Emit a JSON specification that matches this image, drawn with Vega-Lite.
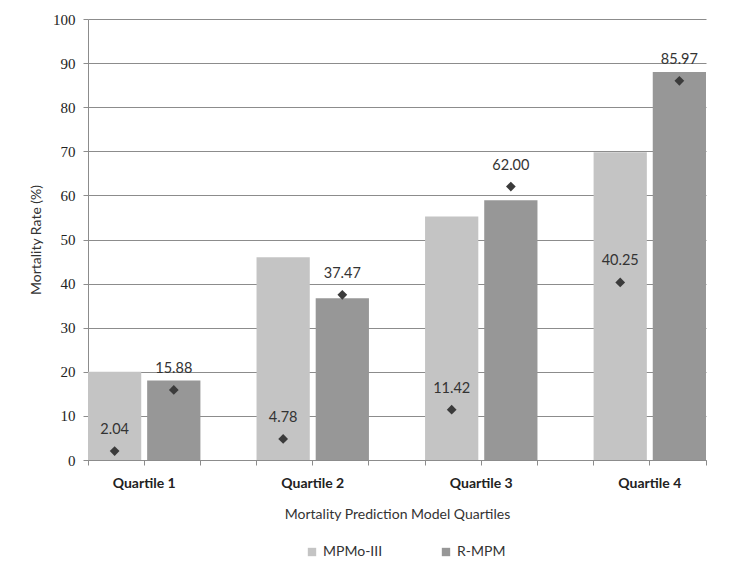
{
  "$schema": "https://vega.github.io/schema/vega-lite/v6.json",
  "autosize": "none",
  "width": 618,
  "height": 441,
  "padding": {"left": 88, "top": 19, "right": 26, "bottom": 122},
  "background": "white",
  "data": {
    "values": [
      {"quartile": "Quartile 1", "model": "MPMo-III", "rate": 20, "observed": 2.04},
      {"quartile": "Quartile 1", "model": "R-MPM", "rate": 18, "observed": 15.88},
      {"quartile": "Quartile 2", "model": "MPMo-III", "rate": 46, "observed": 4.78},
      {"quartile": "Quartile 2", "model": "R-MPM", "rate": 36.7, "observed": 37.47},
      {"quartile": "Quartile 3", "model": "MPMo-III", "rate": 55.2, "observed": 11.42},
      {"quartile": "Quartile 3", "model": "R-MPM", "rate": 58.9, "observed": 62.0},
      {"quartile": "Quartile 4", "model": "MPMo-III", "rate": 69.8, "observed": 40.25},
      {"quartile": "Quartile 4", "model": "R-MPM", "rate": 88, "observed": 85.97}
    ]
  },
  "resolve": {"axis": {"x": "independent"}},
  "layer": [
    {
      "mark": {"type": "bar"},
      "encoding": {
        "x": {
          "field": "quartile", "type": "nominal",
          "scale": {"paddingInner": 0.333, "paddingOuter": 0},
          "axis": {
            "orient": "bottom",
            "title": "Mortality Prediction Model Quartiles",
            "labelAngle": 0,
            "labelFont": "Lato", "labelFontWeight": "bold", "labelFontSize": 14, "labelColor": "#222",
            "labelPadding": 11,
            "titleFont": "Lato", "titleFontWeight": "normal", "titleFontSize": 14, "titleColor": "#333",
            "titlePadding": 17,
            "domainColor": "#8c8c8c", "tickColor": "#8c8c8c", "tickSize": 5,
            "bandPosition": 0.5
          }
        },
        "xOffset": {"field": "model", "type": "nominal", "scale": {"paddingInner": 0.1, "paddingOuter": 0}},
        "y": {
          "field": "rate", "type": "quantitative",
          "title": "Mortality Rate (%)",
          "scale": {"domain": [0, 100]}
        },
        "color": {
          "field": "model", "type": "nominal",
          "scale": {"domain": ["MPMo-III", "R-MPM"], "range": ["#c4c4c4", "#979797"]},
          "legend": {
            "title": null,
            "orient": "none",
            "direction": "horizontal",
            "legendX": 217,
            "legendY": 526,
            "symbolType": "square",
            "symbolSize": 70,
            "symbolStrokeWidth": 0,
            "labelFont": "Lato", "labelFontSize": 14, "labelColor": "#333",
            "labelOffset": 4,
            "columnPadding": 56
          }
        }
      }
    },
    {
      "mark": {"type": "point", "shape": "diamond", "filled": true, "color": "#3b3b3b", "size": 95, "opacity": 1},
      "encoding": {
        "x": {
          "field": "quartile", "type": "nominal",
          "axis": {"orient": "bottom", "bandPosition": 0, "labels": false, "title": null, "domain": false, "tickColor": "#8c8c8c", "tickSize": 5}
        },
        "xOffset": {"field": "model", "type": "nominal"},
        "y": {"field": "observed", "type": "quantitative", "title": "Mortality Rate (%)"}
      }
    },
    {
      "mark": {"type": "text", "dy": -21, "font": "Lato", "fontSize": 14.5, "color": "#333"},
      "encoding": {
        "x": {
          "field": "quartile", "type": "nominal",
          "axis": {"orient": "bottom", "bandPosition": 1, "labels": false, "title": null, "domain": false, "tickColor": "#8c8c8c", "tickSize": 5}
        },
        "xOffset": {"field": "model", "type": "nominal"},
        "y": {"field": "observed", "type": "quantitative", "title": "Mortality Rate (%)"},
        "text": {"field": "observed", "type": "quantitative", "format": ".2f"}
      }
    }
  ],
  "config": {
    "view": {"stroke": null},
    "axisY": {
      "grid": true, "gridColor": "#8c8c8c", "gridWidth": 1,
      "domainColor": "#8c8c8c", "tickColor": "#8c8c8c", "tickSize": 5,
      "values": [0, 10, 20, 30, 40, 50, 60, 70, 80, 90, 100],
      "labelFont": "Liberation Serif", "labelFontSize": 15, "labelColor": "#222", "labelPadding": 8,
      "titleFont": "Lato", "titleFontWeight": "normal", "titleFontSize": 14, "titleColor": "#333",
      "titlePadding": 9
    }
  }
}
